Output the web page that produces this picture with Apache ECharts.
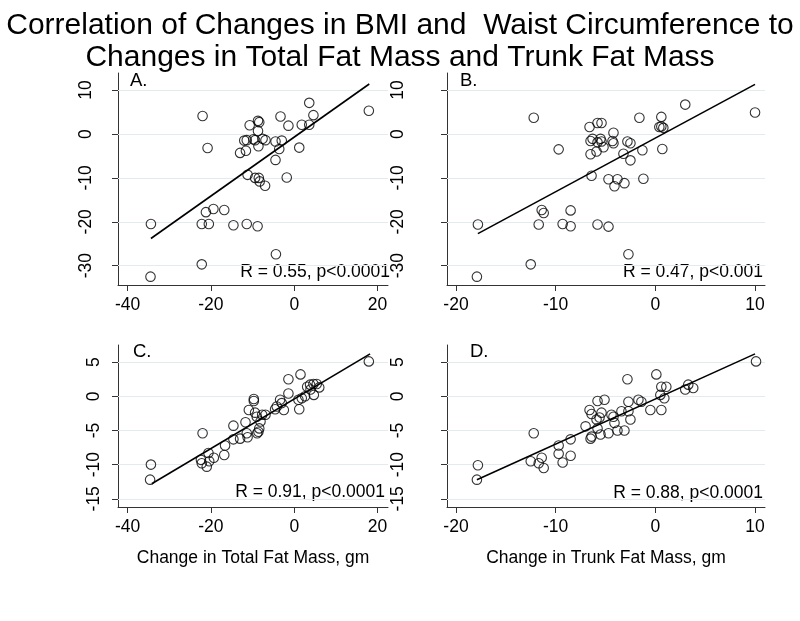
<!DOCTYPE html>
<html><head><meta charset="utf-8">
<script src="https://cdn.jsdelivr.net/npm/echarts@6/dist/echarts.min.js"></script>
<style>html,body{margin:0;padding:0;background:#fff}#c{width:800px;height:621px}</style>
</head><body><div id="c"></div>
<script>
// ---- data ----
const titleText = 'Correlation of Changes in BMI and  Waist Circumference to\nChanges in Total Fat Mass and Trunk Fat Mass';
const xTitleTotal = 'Change in Total Fat Mass, gm';
const xTitleTrunk = 'Change in Trunk Fat Mass, gm';
const panelLetters = ['A.', 'B.', 'C.', 'D.'];
const statTexts = ['R = 0.55, p<0.0001', 'R = 0.47, p<0.001', 'R = 0.91, p<0.0001', 'R = 0.88, p<0.0001'];

const xTicksTotal = [-40, -20, 0, 20];
const xTicksTrunk = [-20, -10, 0, 10];
const yTicksTop = [-30, -20, -10, 0, 10];
const yTicksBottom = [-15, -10, -5, 0, 5];

const pointsA = [[-22.0,4.1],[-34.4,-20.5],[-34.5,-32.5],[-20.8,-3.2],[-22.2,-29.7],[-22.2,-20.5],[-20.5,-20.5],[-21.2,-17.8],[-19.4,-17.1],[-16.8,-17.3],[-14.6,-20.8],[-11.4,-20.5],[-8.8,-21.0],[-4.4,-27.4],[-11.2,-9.3],[-9.4,-10.0],[-8.5,-10.0],[-8.3,-10.8],[-7.0,-11.8],[-1.8,-9.9],[-13.0,-4.3],[-11.6,-3.8],[-12.0,-1.5],[-11.4,-1.4],[-10.7,2.0],[-8.7,3.0],[-8.4,2.7],[-8.7,0.7],[-9.8,-1.2],[-9.4,-1.4],[-8.6,-2.8],[-7.6,-1.1],[-6.9,-1.4],[-4.5,-1.7],[-3.3,4.0],[-3.0,-1.5],[-1.4,1.9],[-3.6,-3.4],[-4.5,-5.9],[1.8,2.1],[3.6,2.1],[4.6,4.3],[3.6,7.1],[1.2,-3.1],[17.9,5.3]];
const pointsB = [[-12.2,3.7],[-17.8,-20.6],[-17.9,-32.5],[-12.5,-29.7],[-9.7,-3.5],[-11.4,-17.3],[-11.2,-18.0],[-11.7,-20.6],[-8.5,-17.4],[-9.3,-20.5],[-8.5,-21.0],[-5.8,-20.6],[-4.7,-21.1],[-2.7,-27.4],[-6.4,-9.5],[-4.7,-10.3],[-3.8,-10.3],[-4.1,-11.9],[-3.1,-11.2],[-1.2,-10.2],[-6.6,1.6],[-5.8,2.5],[-5.4,2.5],[-6.5,-1.6],[-6.3,-1.1],[-4.2,0.3],[-5.5,-1.1],[-5.4,-1.7],[-5.8,-1.9],[-5.2,-3.0],[-5.9,-4.0],[-6.5,-4.6],[-4.3,-1.6],[-4.2,-2.1],[-2.8,-1.7],[-2.5,-2.1],[-3.2,-4.5],[-2.5,-6.0],[-1.3,-3.7],[-1.6,3.7],[0.6,3.9],[0.4,1.6],[0.8,1.4],[0.6,1.7],[3.0,6.7],[10.0,4.9],[0.7,-3.4]];
const pointsC = [[-34.4,-10.0],[-34.6,-12.2],[-22.0,-5.4],[-22.4,-9.3],[-22.2,-9.8],[-21.0,-10.3],[-20.6,-8.3],[-20.4,-9.5],[-19.3,-9.0],[-16.8,-8.6],[-16.6,-7.2],[-14.6,-6.3],[-14.6,-4.3],[-13.0,-6.2],[-11.7,-3.8],[-11.4,-5.4],[-11.2,-6.0],[-10.9,-2.0],[-9.7,-0.4],[-9.7,-0.7],[-9.4,-2.4],[-9.0,-3.0],[-8.6,-5.2],[-8.4,-4.7],[-8.1,-3.7],[-7.7,-2.7],[-6.9,-2.7],[-8.9,-5.4],[-4.6,-1.9],[-4.2,-1.5],[-3.4,-0.5],[-3.0,-1.0],[-2.5,-2.0],[-1.4,0.4],[-1.4,2.5],[1.0,-0.5],[1.2,-1.9],[1.5,3.2],[1.8,-0.3],[3.1,1.4],[3.8,1.7],[4.6,1.8],[5.4,1.8],[6.0,1.3],[3.9,1.0],[4.7,0.2],[2.6,0.0],[17.9,5.1]];
const pointsD = [[-17.8,-10.1],[-17.9,-12.2],[-12.2,-5.4],[-12.5,-9.5],[-11.7,-9.8],[-11.4,-9.0],[-11.2,-10.5],[-9.7,-7.2],[-9.7,-8.4],[-9.3,-9.7],[-8.5,-8.7],[-8.5,-6.3],[-7.0,-4.4],[-6.5,-6.2],[-6.4,-5.9],[-6.6,-2.0],[-6.4,-2.6],[-5.8,-0.7],[-5.1,-0.5],[-5.4,-2.4],[-5.9,-3.4],[-5.6,-3.1],[-5.8,-4.7],[-5.5,-5.6],[-4.7,-5.4],[-4.4,-2.7],[-4.2,-3.0],[-4.1,-3.9],[-3.8,-5.0],[-3.1,-5.0],[-3.4,-2.2],[-2.7,-0.8],[-2.7,-2.2],[-2.5,-3.4],[-2.8,2.5],[-1.7,-0.5],[-1.4,-0.8],[-0.5,-2.0],[0.1,3.2],[0.5,0.2],[0.6,-2.0],[0.6,1.4],[1.1,1.4],[0.9,-0.3],[3.0,1.0],[3.3,1.7],[3.8,1.2],[10.1,5.1]];

const fitA = [[-34.4,-23.8],[18.0,11.4]];
const fitB = [[-17.8,-22.7],[10.0,11.3]];
const fitC = [[-34.2,-12.8],[18.2,6.2]];
const fitD = [[-17.9,-12.2],[10.0,6.2]];

// ---- layout / styling ----
const FONT = 'Liberation Sans';
const FS = 17.5;
const grids = [
  {left:118, top:73, width:270, height:212},
  {left:447, top:73, width:318, height:212},
  {left:118, top:345, width:270, height:162},
  {left:447, top:345, width:318, height:162}
];
const axisLineStyle = {color:'#333', width:1};

function mkX(gi, min, max, ticks, name) {
  return {
    type:'value', gridIndex:gi, min:min, max:max,
    axisLine:{show:true, onZero:false, lineStyle:axisLineStyle},
    axisTick:{show:true, customValues:ticks, length:6, lineStyle:axisLineStyle},
    axisLabel:{customValues:ticks, fontSize:FS, color:'#000', fontFamily:FONT, margin:11},
    splitLine:{show:false},
    name:name || '', nameLocation:'middle', nameGap:42,
    nameTextStyle:{fontSize:FS, color:'#000', fontFamily:FONT}
  };
}
function mkY(gi, min, max, ticks, margin) {
  return {
    type:'value', gridIndex:gi, min:min, max:max,
    axisLine:{show:true, onZero:false, lineStyle:axisLineStyle},
    axisTick:{show:true, customValues:ticks, length:6, lineStyle:axisLineStyle},
    axisLabel:{customValues:ticks, fontSize:FS, color:'#000', fontFamily:FONT, rotate:90, margin:margin},
    splitLine:{show:false}
  };
}
function scatter(gi, pts, yTicks) {
  return {
    type:'scatter', xAxisIndex:gi, yAxisIndex:gi, data:pts,
    symbol:'circle', symbolSize:9.5,
    itemStyle:{color:'rgba(0,0,0,0)', borderColor:'#000', borderWidth:1.1},
    z:3,
    markLine:{silent:true, symbol:['none','none'], label:{show:false},
      lineStyle:{color:'#e2ebee', width:1, type:'solid'},
      data:yTicks.map(v => ({yAxis:v})), z:1}
  };
}
function fit(gi, pts) {
  return {type:'line', xAxisIndex:gi, yAxisIndex:gi, data:pts, symbol:'none',
    lineStyle:{color:'#000', width:1.6}, z:4};
}

const letterPos = [[130,81],[460,81],[133,352],[470,352]];
const statPos = [[390,272],[763,272],[385,492],[763,493]];
const graphic = [];
panelLetters.forEach((t,i) => graphic.push({type:'text', x:letterPos[i][0], y:letterPos[i][1],
  style:{text:t, fontSize:18.5, fontFamily:FONT, fill:'#000', textVerticalAlign:'middle', textAlign:'left'}}));
statTexts.forEach((t,i) => graphic.push({type:'text', x:statPos[i][0], y:statPos[i][1],
  style:{text:t, fontSize:FS, fontFamily:FONT, fill:'#000', textVerticalAlign:'middle', textAlign:'right'}}));

const chart = echarts.init(document.getElementById('c'), null, {renderer:'canvas'});
chart.setOption({
  animation:false,
  backgroundColor:'#fff',
  title:{text:titleText, left:'center', top:5,
    textStyle:{fontSize:30, fontWeight:'normal', lineHeight:32, color:'#000', fontFamily:FONT}},
  grid:grids,
  xAxis:[mkX(0,-42.3,22.5,xTicksTotal), mkX(1,-20.9,11.0,xTicksTrunk),
         mkX(2,-42.3,22.5,xTicksTotal,xTitleTotal), mkX(3,-20.9,11.0,xTicksTrunk,xTitleTrunk)],
  yAxis:[mkY(0,-34.4,13.9,yTicksTop,23), mkY(1,-34.4,13.9,yTicksTop,40),
         mkY(2,-16.2,7.5,yTicksBottom,15), mkY(3,-16.2,7.5,yTicksBottom,40)],
  series:[scatter(0,pointsA,yTicksTop), fit(0,fitA),
          scatter(1,pointsB,yTicksTop), fit(1,fitB),
          scatter(2,pointsC,yTicksBottom), fit(2,fitC),
          scatter(3,pointsD,yTicksBottom), fit(3,fitD)],
  graphic:graphic
});
</script></body></html>
